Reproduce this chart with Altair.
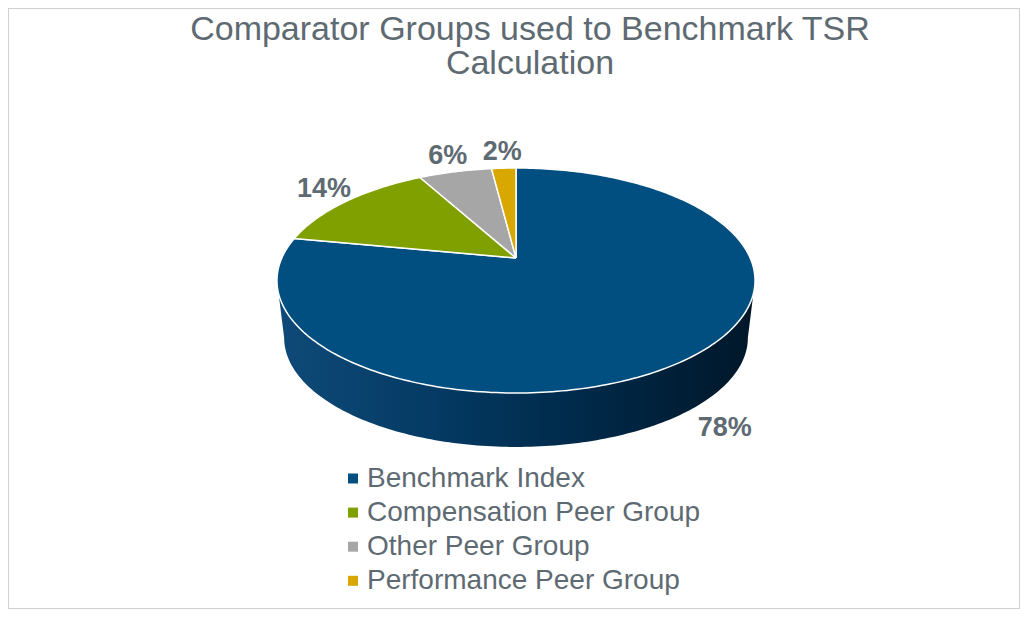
import math
import altair as alt
import pandas as pd

# ---- data ----
categories = ["Benchmark Index", "Compensation Peer Group", "Other Peer Group", "Performance Peer Group"]
values = [78, 14, 6, 2]
colors = ["#004f80", "#80a000", "#a6a6a6", "#d8a700"]
title_lines = ["Comparator Groups used to Benchmark TSR", "Calculation"]

# ---- layout (pixels of the plot area) ----
W, H = 1012, 601
CX, CY = 508.0, 250.0          # apex of the tilted pie
A, B, K = 234.2, 108.0, 0.2    # perspective ellipse parameters
DEPTH, SHRINK = 58.0, 0.97     # side wall
LABEL_R, LABEL_DROP, LABEL_LIFT = 1.15, 54.0, 5.0
TEXT = "#5e6a72"


def proj(r, phi, cy=CY, s=1.0):
    sn, cs = math.sin(phi), math.cos(phi)
    d = 1 + K * r * sn
    return CX + s * A * r * cs / d, cy - s * B * r * sn / d


total = float(sum(values))

# pie top-face slices
slice_rows = []
start = 0.0
for cat, v in zip(categories, values):
    t0 = start / total * 360.0
    t1 = (start + v) / total * 360.0
    n = max(3, int(math.ceil(t1 - t0)))
    pts = [(CX, CY)]
    for i in range(n + 1):
        th = t0 + (t1 - t0) * i / n
        pts.append(proj(1.0, math.radians(90.0 - th)))
    pts.append((CX, CY))
    for j, (x, y) in enumerate(pts):
        slice_rows.append({"cat": cat, "idx": j, "x": x, "y": y})
    start += v
slices_df = pd.DataFrame(slice_rows)

# side wall (front of the first slice)
phi_l = math.pi + math.asin(K)
phi_r = 2 * math.pi - math.asin(K)
N = 160
wall_pts = [proj(1.0, phi_l + (phi_r - phi_l) * i / N) for i in range(N + 1)]
wall_pts += [proj(1.0, phi_r - (phi_r - phi_l) * i / N, cy=CY + DEPTH, s=SHRINK) for i in range(N + 1)]
wall_df = pd.DataFrame([{"idx": j, "x": x, "y": y} for j, (x, y) in enumerate(wall_pts)])

# percentage labels
label_rows = []
start = 0.0
for cat, v in zip(categories, values):
    mid = (start + v / 2.0) / total * 360.0
    phi = math.radians(90.0 - mid)
    x, y = proj(LABEL_R, phi)
    if math.sin(phi) < 0:
        y += LABEL_DROP
    else:
        y -= LABEL_LIFT
    label_rows.append({"cat": cat, "x": x, "y": y, "label": f"{v}%"})
    start += v
labels_df = pd.DataFrame(label_rows)

xs = alt.Scale(domain=[0, W], nice=False, zero=False)
ys = alt.Scale(domain=[0, H], reverse=True, nice=False, zero=False)

wall = alt.Chart(wall_df).mark_line(
    filled=True,
    fill=alt.Gradient(
        gradient="linear",
        stops=[
            alt.GradientStop(color="#0f4a78", offset=0),
            alt.GradientStop(color="#053c66", offset=0.3),
            alt.GradientStop(color="#002b4c", offset=0.6),
            alt.GradientStop(color="#001729", offset=1),
        ],
        x1=0, x2=1, y1=0, y2=0,
    ),
    strokeOpacity=0,
).encode(
    x=alt.X("x:Q", scale=xs, axis=None),
    y=alt.Y("y:Q", scale=ys, axis=None),
    order=alt.Order("idx:Q"),
)

slices = alt.Chart(slices_df).mark_line(
    filled=True, stroke="white", strokeWidth=1.5, strokeJoin="round"
).encode(
    x=alt.X("x:Q", scale=xs, axis=None),
    y=alt.Y("y:Q", scale=ys, axis=None),
    order=alt.Order("idx:Q"),
    fill=alt.Fill(
        "cat:N",
        scale=alt.Scale(domain=categories, range=colors),
        legend=alt.Legend(
            orient="none", legendX=331, legendY=456.5, title=None,
            symbolType="square", symbolSize=100, symbolStrokeWidth=0,
            labelFontSize=28, labelFont="Liberation Sans", labelColor=TEXT,
            labelOffset=0, rowPadding=6.1, padding=0, labelLimit=600,
        ),
    ),
)

labels = alt.Chart(labels_df).mark_text(
    font="Liberation Sans", fontSize=27, fontWeight="bold", color=TEXT,
    align="center", baseline="middle",
).encode(
    x=alt.X("x:Q", scale=xs, axis=None),
    y=alt.Y("y:Q", scale=ys, axis=None),
    text="label:N",
)

chart = alt.layer(wall, slices, labels).properties(
    width=W, height=H,
    autosize=alt.AutoSizeParams(type="none"),
    padding=0,
    title=alt.Title(
        title_lines, font="Liberation Sans", fontSize=34, fontWeight="normal",
        color=TEXT, anchor="middle", baseline="bottom", offset=-107, dx=16, lineHeight=34,
    ),
).configure_view(stroke="#d0d0d0", strokeWidth=2)

chart.save("out.html", embed_options={"renderer": "svg", "actions": False})
